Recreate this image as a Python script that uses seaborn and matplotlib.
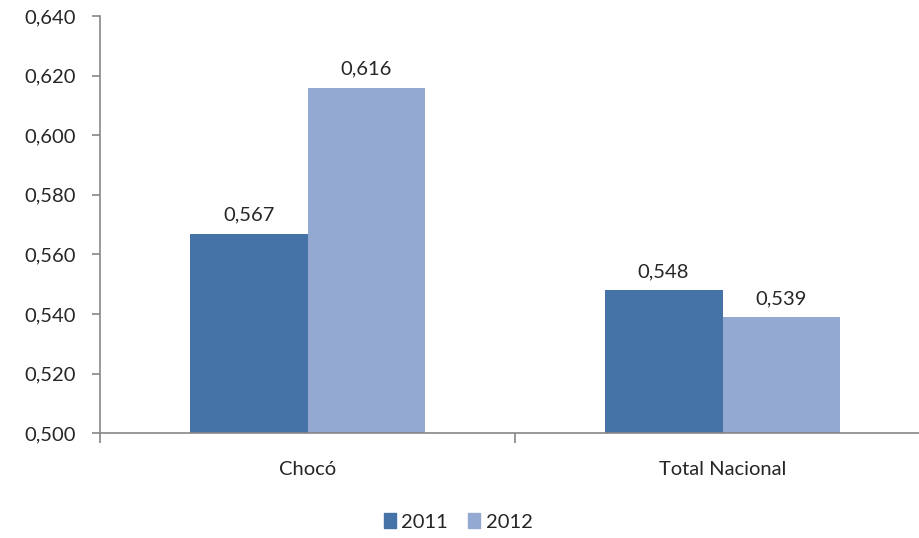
import numpy as np
import pandas as pd
import matplotlib
matplotlib.use("Agg")
import matplotlib.pyplot as plt
from matplotlib.ticker import FuncFormatter, FixedLocator
import seaborn as sns

# ── Data ─────────────────────────────────────────────────────────────────────
categories = ["Chocó", "Total Nacional"]
years = ["2011", "2012"]
values_2011 = [0.567, 0.548]
values_2012 = [0.616, 0.539]
y_ticks = [0.500, 0.520, 0.540, 0.560, 0.580, 0.600, 0.620, 0.640]

COLORS = {"2011": "#4572A7", "2012": "#94A9D1"}
TEXT = "#262626"
AXIS = "#868686"
FS = 14.5

df = pd.DataFrame({
    "categoria": categories * 2,
    "anio": [years[0]] * len(categories) + [years[1]] * len(categories),
    "valor": values_2011 + values_2012,
})

sns.set_style("white")
plt.rcParams["font.family"] = ["Lato", "DejaVu Sans"]

fig = plt.figure(figsize=(9.19, 5.38), dpi=100)
ax = fig.add_axes([100 / 919, 1 - 433.3 / 538, 830 / 919, 417.3 / 538])

sns.barplot(data=df, x="categoria", y="valor", hue="anio", order=categories,
            hue_order=years, palette=COLORS, width=0.568, gap=0,
            linewidth=0, saturation=1, ax=ax, legend=False)

ax.set_ylim(0.5, 0.64)
ax.set_xlim(-0.5, 1.5)
ax.yaxis.set_major_locator(FixedLocator(y_ticks))
ax.yaxis.set_major_formatter(FuncFormatter(lambda v, _: f"{v:.3f}".replace(".", ",")))
ax.set_xlabel("")
ax.set_ylabel("")

# bar value labels
for cont in ax.containers:
    ax.bar_label(cont, labels=[f"{b.get_height():.3f}".replace(".", ",") for b in cont],
                 padding=7, fontsize=FS, color=TEXT)

# axes styling
for side in ["top", "right"]:
    ax.spines[side].set_visible(False)
for side in ["left", "bottom"]:
    ax.spines[side].set_color(AXIS)
    ax.spines[side].set_linewidth(1.2)

ax.tick_params(axis="y", which="major", length=5.5, width=1.2, color=AXIS,
               labelsize=FS, labelcolor=TEXT, pad=12, left=True)
ax.tick_params(axis="x", which="major", length=0, labelsize=FS,
               labelcolor=TEXT, pad=20)
ax.xaxis.set_minor_locator(FixedLocator([-0.5, 0.5, 1.5]))
ax.tick_params(axis="x", which="minor", length=7, width=1.2, color=AXIS, bottom=True)

# legend
handles = [plt.Rectangle((0, 0), 1, 1, color=COLORS[y]) for y in years]
fig.legend(handles, years, loc="center", bbox_to_anchor=(458 / 919, 1 - 522 / 538),
           ncol=2, frameon=False, fontsize=FS, handlelength=0.62, handleheight=0.72,
           handletextpad=0.25, columnspacing=1.0, labelcolor=TEXT)

plt.savefig("out.png", dpi=100)
